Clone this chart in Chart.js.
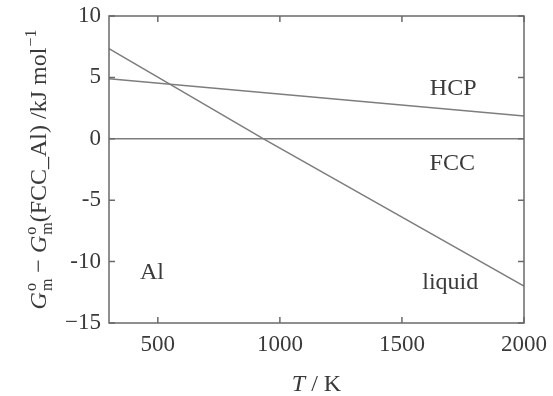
<!DOCTYPE html>
<html><head><meta charset="utf-8">
<script src="https://cdn.jsdelivr.net/npm/chart.js@4/dist/chart.umd.min.js"></script>
<style>html,body{margin:0;padding:0;background:#fff}#wrap{width:553px;height:396px}</style>
</head><body><div id="wrap"><canvas id="c" width="553" height="396"></canvas></div>
<script>
// Gibbs energy of Al phases relative to FCC_Al, kJ/mol, vs temperature in K
const hcpT = [300, 2000];
const hcpG = [4.9, 1.85];
const fccT = [300, 2000];
const fccG = [0, 0];
const liquidT = [300, 933, 2000];
const liquidG = [7.35, 0, -12];

const xTicks = [500, 1000, 1500, 2000];
const yTicks = [10, 5, 0, -5, -10, -15];
const yTickLabels = ["10", "5", "0", "-5", "-10", "\u221215"];

const phaseNames = ["HCP", "FCC", "liquid", "Al"];
const phaseT = [1710, 1706, 1698, 476];
const phaseG = [4.1, -2.0, -11.7, -10.9];

const SERIF = "'Liberation Serif', 'DejaVu Serif', serif";
const TEXT = "#3a3a3a";
const LINE = "#7d7d7d";
const AXIS = "#6a6a6a";

const toPts = (xs, ys) => xs.map((x, i) => ({x: x, y: ys[i]}));

function drawRich(ctx, parts, cx, cy) {
  // measure then draw a run of text pieces with super/subscripts
  let total = 0;
  const widths = parts.map(p => {
    if (p.scripts) {
      ctx.font = p.scripts.font;
      return Math.max(ctx.measureText(p.scripts.sup || "").width, ctx.measureText(p.scripts.sub || "").width) + 1;
    }
    ctx.font = p.font;
    return ctx.measureText(p.t).width;
  });
  widths.forEach(w => total += w);
  let x = cx - total / 2;
  ctx.textBaseline = "alphabetic";
  ctx.textAlign = "left";
  parts.forEach((p, i) => {
    if (p.scripts) {
      ctx.font = p.scripts.font;
      if (p.scripts.sup) ctx.fillText(p.scripts.sup, x + 1, cy - 10);
      if (p.scripts.sub) ctx.fillText(p.scripts.sub, x + 1, cy + 6);
    } else {
      ctx.font = p.font;
      ctx.fillText(p.t, x, cy);
    }
    x += widths[i];
  });
}

const framePlugin = {
  id: "frame",
  afterDraw(chart) {
    const ctx = chart.ctx;
    const a = chart.chartArea;
    const xs = chart.scales.x, ys = chart.scales.y;
    ctx.save();
    ctx.strokeStyle = AXIS;
    ctx.lineWidth = 1.5;
    ctx.strokeRect(a.left, a.top, a.right - a.left, a.bottom - a.top);
    const tl = 6;
    ctx.beginPath();
    xTicks.forEach(v => {
      const px = xs.getPixelForValue(v);
      ctx.moveTo(px, a.bottom); ctx.lineTo(px, a.bottom - tl);
      ctx.moveTo(px, a.top); ctx.lineTo(px, a.top + tl);
    });
    yTicks.forEach(v => {
      const py = ys.getPixelForValue(v);
      ctx.moveTo(a.left, py); ctx.lineTo(a.left + tl, py);
      ctx.moveTo(a.right, py); ctx.lineTo(a.right - tl, py);
    });
    ctx.stroke();

    // phase labels
    ctx.fillStyle = TEXT;
    ctx.font = "24px " + SERIF;
    ctx.textAlign = "center";
    ctx.textBaseline = "middle";
    phaseNames.forEach((n, i) => {
      ctx.fillText(n, xs.getPixelForValue(phaseT[i]), ys.getPixelForValue(phaseG[i]));
    });

    // x title
    const big = "24px " + SERIF, bigI = "italic 24px " + SERIF, small = "16px " + SERIF;
    drawRich(ctx, [{t: "T", font: bigI}, {t: " / K", font: big}], (a.left + a.right) / 2, 391);

    // y title
    ctx.translate(46, (a.top + a.bottom) / 2);
    ctx.rotate(-Math.PI / 2);
    drawRich(ctx, [
      {t: "G", font: bigI},
      {scripts: {sup: "o", sub: "m", font: small}},
      {t: " \u2212 ", font: big},
      {t: "G", font: bigI},
      {scripts: {sup: "o", sub: "m", font: small}},
      {t: "(FCC_Al) /kJ mol", font: big},
      {scripts: {sup: "\u22121", font: small}}
    ], 0, 0);
    ctx.restore();
  }
};

const lineStyle = {showLine: true, pointRadius: 0, borderColor: LINE, borderWidth: 1.5, fill: false, tension: 0};

new Chart(document.getElementById("c"), {
  type: "scatter",
  data: {
    datasets: [
      Object.assign({label: "HCP", data: toPts(hcpT, hcpG)}, lineStyle),
      Object.assign({label: "FCC", data: toPts(fccT, fccG)}, lineStyle),
      Object.assign({label: "liquid", data: toPts(liquidT, liquidG)}, lineStyle)
    ]
  },
  options: {
    responsive: false,
    devicePixelRatio: 1,
    animation: false,
    layout: {padding: {left: 0, top: 16, right: 29, bottom: 0}},
    plugins: {legend: {display: false}, tooltip: {enabled: false}},
    scales: {
      x: {
        type: "linear", min: 300, max: 2000,
        afterBuildTicks: s => { s.ticks = xTicks.map(v => ({value: v})); },
        afterFit: s => { s.height = 73; },
        grid: {display: false}, border: {display: false},
        ticks: {color: TEXT, font: {family: SERIF, size: 23}, padding: 0, maxRotation: 0, callback: v => String(v)}
      },
      y: {
        type: "linear", min: -15, max: 10,
        afterBuildTicks: s => { s.ticks = yTicks.map(v => ({value: v})); },
        afterFit: s => { s.width = 109; },
        grid: {display: false}, border: {display: false},
        ticks: {color: TEXT, font: {family: SERIF, size: 23}, padding: 0,
          callback: v => yTickLabels[yTicks.indexOf(v)]}
      }
    }
  },
  plugins: [framePlugin]
});
</script>
</body></html>
